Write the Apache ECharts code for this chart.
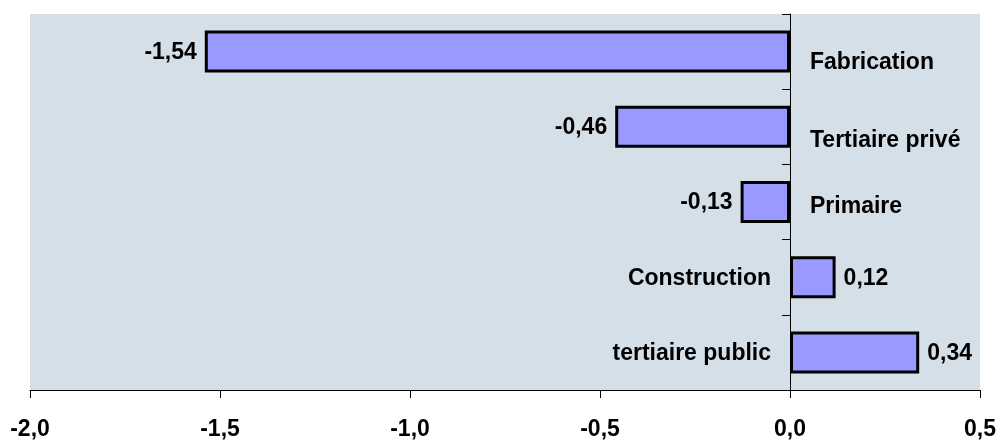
<!DOCTYPE html>
<html>
<head>
<meta charset="utf-8">
<script src="https://cdn.jsdelivr.net/npm/echarts@6/dist/echarts.min.js"></script>
<style>
html,body{margin:0;padding:0;background:#fff;}
#c{width:1000px;height:441px;}
</style>
</head>
<body>
<div id="c"></div>
<script>
const categories = ['Fabrication', 'Tertiaire privé', 'Primaire', 'Construction', 'tertiaire public'];
const values = [-1.54, -0.46, -0.13, 0.12, 0.34];
const xTicks = [-2.0, -1.5, -1.0, -0.5, 0.0, 0.5];

const FONT = '"Liberation Sans", Arial, sans-serif';
const FS = 23;
const nameOffsets = [[0, 11], [0, 14], [0, 5], [0, 1], [0, 1]];

const fmt1 = v => v.toFixed(1).replace('.', ',');
const fmt2 = v => v.toFixed(2).replace('.', ',');

const chart = echarts.init(document.getElementById('c'));
chart.setOption({
  animation: false,
  backgroundColor: '#ffffff',
  grid: {
    left: 30, right: 20, top: 14, bottom: 51,
    show: true, backgroundColor: '#d5dfe7', borderWidth: 0
  },
  xAxis: {
    type: 'value',
    min: xTicks[0], max: xTicks[xTicks.length - 1], interval: 0.5,
    axisLine: { show: true, onZero: false, lineStyle: { color: '#000', width: 1 } },
    axisTick: { show: true, length: 8, lineStyle: { color: '#000' } },
    splitLine: { show: false },
    axisLabel: {
      formatter: v => fmt1(v),
      color: '#000', fontFamily: FONT, fontWeight: 'bold', fontSize: FS, margin: 28
    }
  },
  yAxis: {
    type: 'category',
    inverse: true,
    data: categories,
    axisLine: { show: true, onZero: true, lineStyle: { color: '#000', width: 1 } },
    axisTick: { show: true, length: 8, lineStyle: { color: '#000' } },
    axisLabel: { show: false },
    splitLine: { show: false }
  },
  series: [
    {
      type: 'bar',
      data: values,
      barWidth: 42,
      itemStyle: { color: '#9999ff', borderColor: '#000', borderWidth: 3 },
      label: {
        show: true,
        position: 'outside',
        formatter: p => fmt2(p.value),
        color: '#000', fontFamily: FONT, fontWeight: 'bold', fontSize: FS, distance: 8,
        offset: [0, 1]
      },
      z: 2
    },
    {
      type: 'scatter',
      symbol: 'circle',
      symbolSize: 0,
      itemStyle: { color: '#000', opacity: 1 },
      silent: true,
      label: {
        show: true,
        color: '#000',
        opacity: 1,
        textBorderWidth: 0,
        fontFamily: FONT, fontWeight: 'bold', fontSize: FS
      },
      data: categories.map((c, i) => ({
        value: [0, i],
        name: c,
        label: {
          position: values[i] < 0 ? 'right' : 'left',
          distance: values[i] < 0 ? 20 : 19,
          offset: nameOffsets[i],
          formatter: '{b}',
          color: '#000'
        }
      })),
      z: 3
    }
  ]
});
</script>
</body>
</html>
